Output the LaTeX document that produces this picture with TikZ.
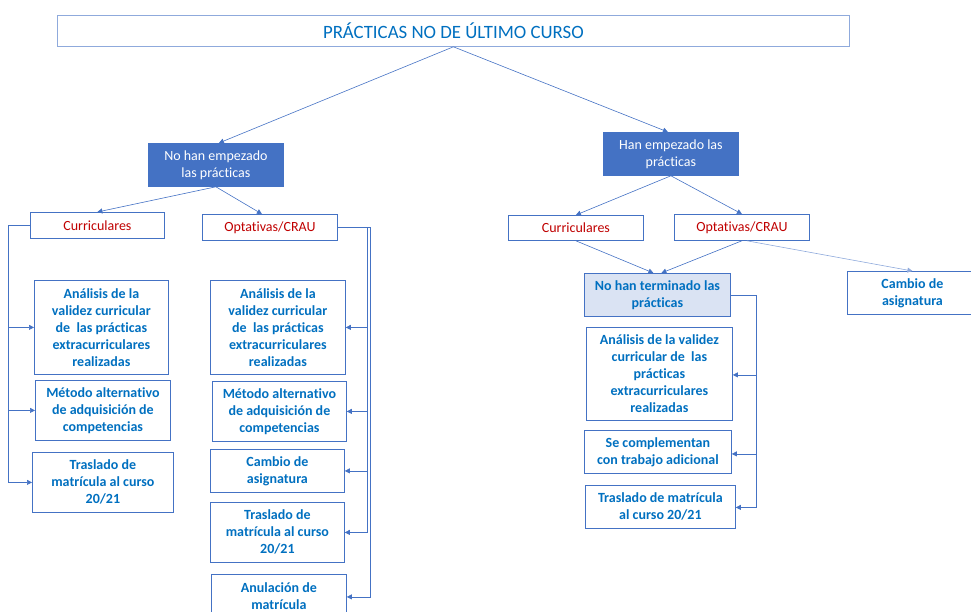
\documentclass[tikz,border=0pt]{standalone}
\usepackage{fontspec}
\setmainfont{Carlito}[Ligatures={NoCommon}]
\usetikzlibrary{arrows.meta}
\definecolor{lineblue}{HTML}{4472C4}
\definecolor{paleline}{HTML}{8FAADC}
\definecolor{textblue}{HTML}{0070C0}
\definecolor{darkred}{HTML}{C00000}
\definecolor{lightfill}{HTML}{DAE3F3}
\tikzset{
  box/.style={draw=lineblue, line width=0.8pt, fill=white, anchor=north west, inner sep=0pt, align=center},
  filledbox/.style={box, fill=lineblue, text=white, font=\fontsize{14}{17}\selectfont},
  redbox/.style={box, text=darkred, font=\fontsize{14}{16}\selectfont},
  bluebox/.style={box, text=textblue, font=\bfseries\fontsize{14}{17}\selectfont},
  conn/.style={draw=lineblue, line width=0.6pt, -{Triangle[width=5pt,length=5pt]}},
  plain/.style={draw=lineblue, line width=0.6pt}
}
\begin{document}
\begin{tikzpicture}[x=1pt,y=-1pt]
\useasboundingbox (0,0) rectangle (971,612);
\clip (0,0) rectangle (971,612);
% title
\node[box, draw=paleline, text=textblue, font=\fontsize{18.8}{20}\selectfont, minimum width=792, minimum height=31] (title) at (57,15) {PRÁCTICAS NO DE ÚLTIMO CURSO};
% level 2
\node[filledbox, minimum width=135, minimum height=43] (noemp) at (148,143) {No han empezado\\las prácticas};
\node[filledbox, minimum width=135, minimum height=43] (emp) at (603,132) {Han empezado las\\prácticas};
% level 3
\node[redbox, minimum width=134, minimum height=26] (curL) at (30,212) {Curriculares};
\node[redbox, minimum width=135, minimum height=26] (optL) at (202,214) {Optativas/CRAU};
\node[redbox, minimum width=135, minimum height=25] (curR) at (508,215) {Curriculares};
\node[redbox, minimum width=135, minimum height=26] (optR) at (674,214) {Optativas/CRAU};
% right side
\node[bluebox, fill=lightfill, minimum width=146, minimum height=43] (noterm) at (584,273) {No han terminado las\\prácticas};
\node[bluebox, minimum width=130, minimum height=43] (cambR) at (847,271) {Cambio de\\asignatura};
\node[bluebox, minimum width=146, minimum height=93] (anaR) at (586,327) {Análisis de la validez\\curricular de\ \ las\\prácticas\\extracurriculares\\realizadas};
\node[bluebox, minimum width=147, minimum height=43] (compR) at (584,430) {Se complementan\\con trabajo adicional};
\node[bluebox, minimum width=150, minimum height=43] (trasR) at (585,485) {Traslado de matrícula\\al curso 20/21};
% left column
\node[bluebox, minimum width=134, minimum height=94] (anaL) at (34,280) {Análisis de la\\validez curricular\\de\ \ las prácticas\\extracurriculares\\realizadas};
\node[bluebox, minimum width=135, minimum height=60] (metL) at (35,380) {Método alternativo\\de adquisición de\\competencias};
\node[bluebox, minimum width=141, minimum height=60] (trasL) at (32,452) {Traslado de\\matrícula al curso\\20/21};
% middle column
\node[bluebox, minimum width=135, minimum height=94] (anaM) at (210,280) {Análisis de la\\validez curricular\\de\ \ las prácticas\\extracurriculares\\realizadas};
\node[bluebox, minimum width=134, minimum height=60] (metM) at (212,381) {Método alternativo\\de adquisición de\\competencias};
\node[bluebox, minimum width=134, minimum height=43] (cambM) at (210,449) {Cambio de\\asignatura};
\node[bluebox, minimum width=134, minimum height=60] (trasM) at (210,502) {Traslado de\\matrícula al curso\\20/21};
\node[bluebox, minimum width=135, minimum height=44] (anuM) at (211,574) {Anulación de\\matrícula};
% connectors from top
\draw[conn] (title.south) -- ([xshift=3]noemp.north);
\draw[conn] (title.south) -- ([xshift=-3]emp.north);
\draw[conn] (noemp.south) -- (curL.north);
\draw[conn] (noemp.south) -- ([xshift=-8]optL.north);
\draw[conn] (emp.south) -- (curR.north);
\draw[conn] (emp.south) -- (optR.north);
\draw[conn] (curR.south) -- ([xshift=-4]noterm.north);
\draw[conn] (optR.south) -- ([xshift=4]noterm.north);
\draw[conn, draw=paleline] ([xshift=5]optR.south) -- (cambR.north);
% left bus
\draw[conn] (curL.west) -- ++(-22,0) |- (anaL.west);
\draw[conn] (curL.west) -- ++(-22,0) |- (metL.west);
\draw[conn] (curL.west) -- ++(-22,0) |- (trasL.west);
% middle bus
\draw[conn] (optL.east) -- ++(29,0) |- (anaM.east);
\draw[conn] (optL.east) -- ++(29,0) |- (metM.east);
\draw[conn] (optL.east) -- ++(29,0) |- (cambM.east);
\draw[conn] (optL.east) -- ++(29,0) |- (trasM.east);
\draw[conn] (optL.east) -- ++(32,0) |- ([yshift=-0.5]anuM.east);
% right bus
\draw[conn] (noterm.east) -- ++(25,0) |- ([yshift=-1]anaR.east);
\draw[conn] (noterm.east) -- ++(25,0) |- ([yshift=-2]compR.east);
\draw[conn] (noterm.east) -- ++(25,0) |- ([yshift=-0.5]trasR.east);
\end{tikzpicture}
\end{document}
